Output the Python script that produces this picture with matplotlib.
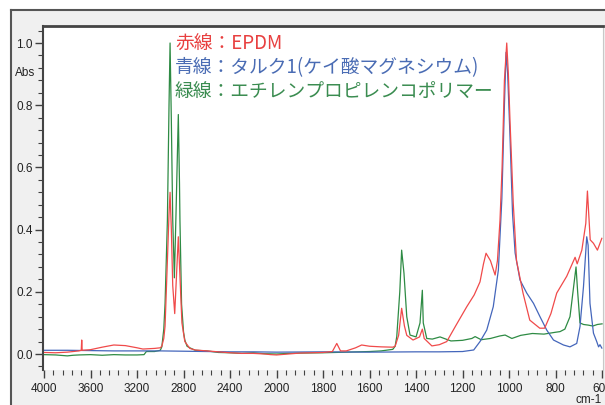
import numpy as np
import matplotlib
matplotlib.use("Agg")
import matplotlib.pyplot as plt
from matplotlib import font_manager
from matplotlib.lines import Line2D
from matplotlib.patches import Rectangle

# wavenumber (cm-1) / absorbance
green_wn = [4000, 3900, 3800, 3750, 3700, 3600, 3500, 3400, 3300, 3200, 3140, 3120,
            3050, 3000, 2987, 2970, 2959, 2939, 2925, 2916, 2905, 2893, 2879, 2865,
            2845, 2835, 2831, 2817, 2800, 2789, 2770, 2746, 2700, 2600, 2500, 2400,
            2300, 2200, 2100, 2000, 1950, 1900, 1800, 1700, 1600, 1550, 1500, 1490,
            1483, 1470, 1462, 1452, 1440, 1426, 1400, 1383, 1373, 1369, 1354, 1330,
            1297, 1250, 1200, 1160, 1146, 1120, 1080, 1040, 1017, 988, 950, 900,
            850, 800, 781, 760, 738, 725, 712, 705, 695, 680, 660, 640, 620, 600]
green_abs = [-0.002, -0.003, -0.006, -0.004, -0.003, -0.002, -0.004, -0.002, -0.003, -0.003, -0.002, 0.008,
             0.008, 0.012, 0.023, 0.08, 0.163, 0.43, 0.8, 1.0, 0.75, 0.43, 0.245, 0.45,
             0.77, 0.55, 0.43, 0.16, 0.07, 0.045, 0.025, 0.02, 0.012, 0.01, 0.005, 0.004,
             0.002, 0.004, 0.001, 0.0, 0.002, 0.003, 0.004, 0.006, 0.008, 0.01, 0.015, 0.025,
             0.056, 0.2, 0.334, 0.26, 0.12, 0.061, 0.055, 0.1, 0.205, 0.1, 0.05, 0.048,
             0.055, 0.042, 0.044, 0.05, 0.056, 0.046, 0.05, 0.058, 0.061, 0.05, 0.06, 0.066,
             0.064, 0.07, 0.072, 0.08, 0.12, 0.2, 0.28, 0.2, 0.1, 0.095, 0.093, 0.09, 0.095, 0.097]

red_wn = [4000, 3900, 3800, 3700, 3680, 3676, 3672, 3600, 3500, 3400, 3300, 3200,
          3150, 3050, 3000, 2987, 2970, 2959, 2939, 2925, 2916, 2905, 2893, 2876,
          2861, 2845, 2831, 2814, 2789, 2746, 2700, 2600, 2500, 2400, 2300, 2200,
          2100, 2050, 2000, 1950, 1900, 1800, 1760, 1741, 1725, 1700, 1660, 1634,
          1600, 1550, 1500, 1490, 1475, 1462, 1450, 1440, 1413, 1385, 1373, 1365,
          1332, 1300, 1268, 1230, 1182, 1150, 1125, 1110, 1099, 1080, 1060, 1050,
          1039, 1030, 1020, 1010, 1003, 996, 982, 968, 940, 911, 868, 847,
          820, 795, 752, 716, 707, 687, 670, 663, 651, 637, 620, 601]
red_abs = [0.005, 0.004, 0.006, 0.01, 0.012, 0.045, 0.012, 0.014, 0.022, 0.029, 0.027, 0.02,
           0.016, 0.018, 0.02, 0.025, 0.05, 0.09, 0.3, 0.45, 0.52, 0.4, 0.22, 0.13,
           0.25, 0.377, 0.25, 0.1, 0.04, 0.018, 0.013, 0.01, 0.007, 0.004, 0.002, 0.002,
           0.0, -0.002, -0.003, 0.0, 0.003, 0.005, 0.008, 0.034, 0.01, 0.01, 0.02, 0.029,
           0.025, 0.023, 0.022, 0.025, 0.06, 0.147, 0.09, 0.06, 0.045, 0.055, 0.08, 0.05,
           0.026, 0.03, 0.04, 0.09, 0.152, 0.19, 0.232, 0.29, 0.324, 0.3, 0.254, 0.3,
           0.43, 0.6, 0.88, 1.0, 0.9, 0.75, 0.485, 0.3, 0.196, 0.109, 0.083, 0.083,
           0.13, 0.196, 0.25, 0.311, 0.29, 0.334, 0.42, 0.524, 0.367, 0.356, 0.334, 0.372]

blue_wn = [4000, 3800, 3600, 3400, 3200, 3000, 2800, 2600, 2400, 2200, 2000, 1800,
           1600, 1400, 1300, 1200, 1152, 1125, 1096, 1068, 1046, 1031, 1020, 1013,
           1006, 996, 985, 974, 953, 924, 895, 867, 838, 809, 766, 738,
           709, 695, 680, 666, 660, 652, 637, 623, 615, 609, 601]
blue_abs = [0.012, 0.012, 0.011, 0.01, 0.01, 0.01, 0.009, 0.008, 0.007, 0.007, 0.006, 0.007,
            0.006, 0.007, 0.007, 0.008, 0.013, 0.04, 0.077, 0.152, 0.27, 0.5, 0.8, 0.97,
            0.9, 0.7, 0.45, 0.325, 0.238, 0.196, 0.163, 0.12, 0.077, 0.045, 0.029, 0.023,
            0.034, 0.088, 0.216, 0.377, 0.35, 0.163, 0.067, 0.04, 0.023, 0.03, 0.019]

x_major = [4000, 3600, 3200, 2800, 2400, 2000, 1800, 1600, 1400, 1200, 1000, 800, 600]
y_major = [0.0, 0.2, 0.4, 0.6, 0.8, 1.0]

legend_lines = ["赤線：EPDM", "青線：タルク1(ケイ酸マグネシウム)", "緑線：エチレンプロピレンコポリマー"]

RED = "#f04a4a"
BLUE = "#4466bb"
GREEN = "#2e8b44"

names = {f.name for f in font_manager.fontManager.ttflist}
tick_font = "Liberation Sans Narrow" if "Liberation Sans Narrow" in names else "Liberation Sans"
plt.rcParams["font.family"] = ["Noto Sans CJK JP", "DejaVu Sans"]


# FTIR style axis: scale doubles below 2000 cm-1
def fwd(x):
    x = np.asarray(x, dtype=float)
    return np.where(x > 2000, 2000 + (x - 2000) / 2.0, x)


def inv(u):
    u = np.asarray(u, dtype=float)
    return np.where(u > 2000, 2000 + (u - 2000) * 2.0, u)


W, H = 605, 405
fig = plt.figure(figsize=(W / 100, H / 100), dpi=100, facecolor="#f0f0f0")

# window frame
fig.patches.append(Rectangle((0, 1 - 10 / H), 1, 10 / H, transform=fig.transFigure,
                             facecolor="white", edgecolor="none", zorder=0))
fig.patches.append(Rectangle((0, 0), 11 / W, 1, transform=fig.transFigure,
                             facecolor="white", edgecolor="none", zorder=0))
fig.lines.append(Line2D([11 / W, 1], [1 - 10 / H, 1 - 10 / H], transform=fig.transFigure,
                        color="#555555", lw=1.5))
fig.lines.append(Line2D([11 / W, 11 / W], [0, 1 - 10 / H], transform=fig.transFigure,
                        color="#555555", lw=1.5))

ax = fig.add_axes([43 / W, (H - 370) / H, 560 / W, 344 / H])
ax.set_facecolor("white")

ax.plot(green_wn, green_abs, color=GREEN, lw=0.9)
ax.plot(blue_wn, blue_abs, color=BLUE, lw=0.9)
ax.plot(red_wn, red_abs, color=RED, lw=0.9)

ax.set_xscale("function", functions=(fwd, inv))
ax.set_xlim(4009, 596)
ax.set_ylim(-0.0514, 1.0547)

ax.set_xticks(x_major)
ax.set_xticklabels([str(v) for v in x_major])
x_minor = [v for v in range(4000, 2000, -80)] + [v for v in range(2000, 599, -40)]
ax.set_xticks(x_minor, minor=True)
ax.set_yticks(y_major)
ax.set_yticklabels(["%.1f" % v for v in y_major])
ax.set_yticks([round(-0.04 + 0.04 * i, 2) for i in range(28)], minor=True)

ax.tick_params(which="both", direction="out", color="#404040", labelsize=8.5,
               labelcolor="#222222")
ax.tick_params(which="major", length=6, width=1.0)
ax.tick_params(which="minor", length=3.5, width=0.8)
ax.tick_params(axis="y", pad=1.5)
ax.tick_params(axis="x", pad=3)
for lab in ax.get_xticklabels() + ax.get_yticklabels():
    lab.set_family(tick_font)

ax.spines["top"].set_color("#444444")
ax.spines["top"].set_linewidth(2)
ax.spines["left"].set_color("#444444")
ax.spines["left"].set_linewidth(1.5)
ax.spines["right"].set_color("#c8c8c8")
ax.spines["bottom"].set_visible(False)

fig.text(25 / W, 1 - 73 / H, "Abs", ha="center", va="center", fontsize=8.5,
         family=tick_font, color="#222222")
fig.text(589 / W, 1 - 400 / H, "cm-1", ha="center", va="center", fontsize=8.5,
         family=tick_font, color="#222222")

for i, (txt, col) in enumerate(zip(legend_lines, ["#e84040", "#4a6cb4", "#3a8c50"])):
    fig.text(175 / W, 1 - (44 + 24 * i) / H, txt, ha="left", va="center",
             fontsize=13.5, color=col)

fig.savefig("out.png", dpi=100, facecolor=fig.get_facecolor())
